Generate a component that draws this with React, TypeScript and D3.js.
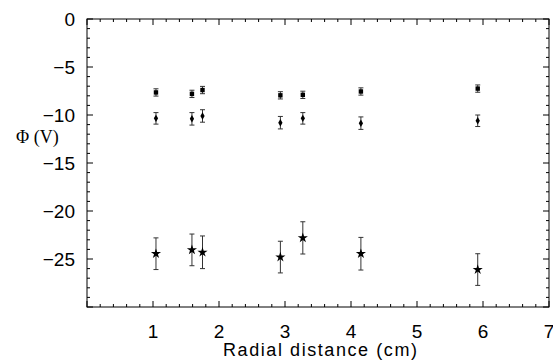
import React from "react";
import * as d3 from "d3";

const radii = [1.045, 1.59, 1.75, 2.93, 3.27, 4.15, 5.92];
const phiTop = [-7.65, -7.8, -7.4, -7.95, -7.9, -7.55, -7.25];
const errTop = [0.38, 0.38, 0.38, 0.38, 0.38, 0.38, 0.38];
const phiMid = [-10.35, -10.4, -10.1, -10.8, -10.35, -10.85, -10.6];
const errMid = [0.6, 0.65, 0.65, 0.65, 0.6, 0.65, 0.6];
const phiStar = [-24.45, -24.05, -24.3, -24.8, -22.8, -24.45, -26.1];
const errStar = [1.65, 1.65, 1.7, 1.65, 1.68, 1.7, 1.65];
const xTicks = [1, 2, 3, 4, 5, 6, 7];
const yTicks = [0, -5, -10, -15, -20, -25];

const W = 553, H = 362;
const L = 87, R = 549, T = 19, B = 307;

export default function App() {
  const x = d3.scaleLinear().domain([0, 7]).range([L, R]);
  const y = d3.scaleLinear().domain([-30, 0]).range([B, T]);
  const xMinor = d3.range(0, 7.001, 0.2).map((v) => Math.round(v * 10) / 10);
  const yMinor = d3.range(-30, 0.001, 1);
  const star = d3.symbol().type(d3.symbolStar).size(32)();
  const diamond = d3.symbol().type(d3.symbolDiamond).size(16)();
  const fmt = (v: number) => (v < 0 ? "\u2212" + Math.abs(v) : String(v));
  const sans = "'Liberation Sans', Arial, sans-serif";

  const errBar = (xv: number, yv: number, e: number, key: string, cap: number) => (
    <g key={key} stroke="#333" strokeWidth={1}>
      <line x1={x(xv)} x2={x(xv)} y1={y(yv + e)} y2={y(yv - e)} />
      <line x1={x(xv) - cap} x2={x(xv) + cap} y1={y(yv + e)} y2={y(yv + e)} />
      <line x1={x(xv) - cap} x2={x(xv) + cap} y1={y(yv - e)} y2={y(yv - e)} />
    </g>
  );

  return (
    <svg width={W} height={H} style={{ position: "absolute", left: 0, top: 0 }}>
      <rect x={0} y={0} width={W} height={H} fill="white" />
      <rect x={L} y={T} width={R - L} height={B - T} fill="none" stroke="#000" strokeWidth={1} />
      {xMinor.map((v) => {
        const major = Math.abs(v - Math.round(v)) < 1e-6;
        const len = major ? 6 : 3;
        return (
          <g key={"xm" + v} stroke="#000" strokeWidth={1}>
            <line x1={x(v)} x2={x(v)} y1={B} y2={B - len} />
            <line x1={x(v)} x2={x(v)} y1={T} y2={T + len} />
          </g>
        );
      })}
      {yMinor.map((v) => {
        const major = v % 5 === 0;
        const len = major ? 6 : 3;
        return (
          <g key={"ym" + v} stroke="#000" strokeWidth={1}>
            <line x1={L} x2={L + len} y1={y(v)} y2={y(v)} />
            <line x1={R} x2={R - len} y1={y(v)} y2={y(v)} />
          </g>
        );
      })}
      {xTicks.map((v) => (
        <text key={"xt" + v} x={x(v)} y={338} textAnchor="middle" fontFamily={sans} fontSize={19}>
          {fmt(v)}
        </text>
      ))}
      {yTicks.map((v) => (
        <text key={"yt" + v} x={75} y={y(v) + 7} textAnchor="end" fontFamily={sans} fontSize={19}>
          {fmt(v)}
        </text>
      ))}
      <text x={16} y={143} fontFamily="'Liberation Serif', 'Times New Roman', serif" fontSize={18}>
        Φ (V)
      </text>
      <text x={320} y={356} textAnchor="middle" fontFamily={sans} fontSize={18} textLength={194} lengthAdjust="spacing">
        Radial distance (cm)
      </text>
      {radii.map((r, i) => errBar(r, phiTop[i], errTop[i], "et" + i, 2.5))}
      {radii.map((r, i) => (
        <rect key={"mt" + i} x={x(r) - 2.2} y={y(phiTop[i]) - 2.2} width={4.4} height={4.4} fill="#000" />
      ))}
      {radii.map((r, i) => errBar(r, phiMid[i], errMid[i], "em" + i, 2.5))}
      {radii.map((r, i) => (
        <path key={"mm" + i} d={diamond} transform={`translate(${x(r)},${y(phiMid[i])})`} fill="#000" />
      ))}
      {radii.map((r, i) => errBar(r, phiStar[i], errStar[i], "es" + i, 2.5))}
      {radii.map((r, i) => (
        <path key={"ms" + i} d={star} transform={`translate(${x(r)},${y(phiStar[i])})`} fill="#000" />
      ))}
    </svg>
  );
}
